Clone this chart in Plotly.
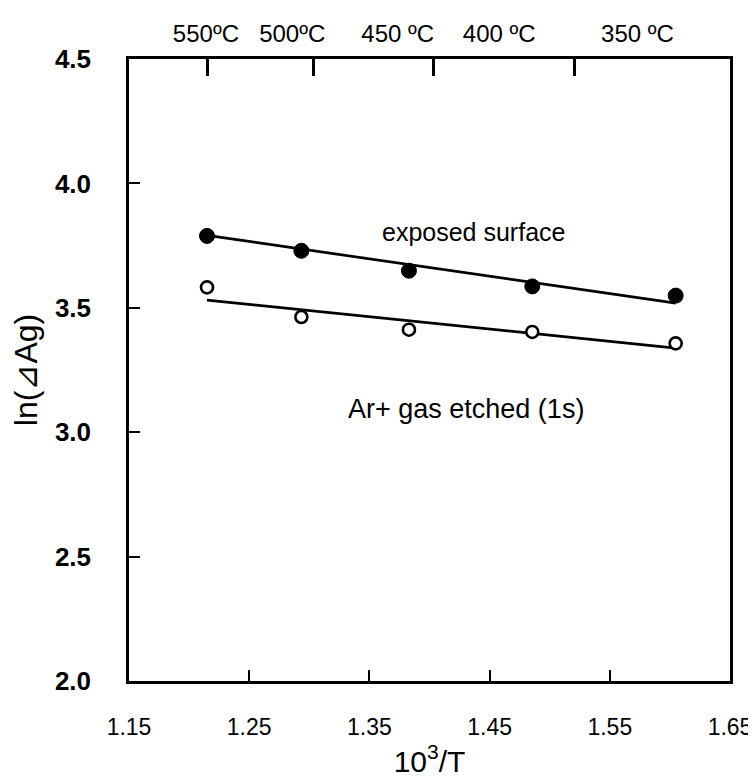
import plotly.graph_objects as go

# Data
inv_T = [1.2149, 1.2934, 1.3829, 1.4855, 1.6048]          # 10^3/T for 550..350 °C
exposed = [3.789, 3.729, 3.649, 3.586, 3.549]              # filled circles
etched = [3.582, 3.463, 3.412, 3.403, 3.357]               # open circles

fit_x = [1.2149, 1.6048]
fit_exposed = [3.791, 3.519]
fit_etched = [3.531, 3.338]

top_tick_vals = [1.215, 1.3034, 1.4037, 1.5207]
top_label_vals = [1.214, 1.2858, 1.3736, 1.458, 1.573]
top_label_text = ["550ºC", "500ºC", "450 ºC", "400 ºC", "350 ºC"]

x_ticks = [1.15, 1.25, 1.35, 1.45, 1.55, 1.65]
y_ticks = [2.0, 2.5, 3.0, 3.5, 4.0, 4.5]

FONT = "Liberation Sans, Arial, sans-serif"

fig = go.Figure()
fig.add_trace(go.Scatter(x=fit_x, y=fit_exposed, mode="lines",
                         line=dict(color="black", width=2.7), showlegend=False, hoverinfo="skip"))
fig.add_trace(go.Scatter(x=fit_x, y=fit_etched, mode="lines",
                         line=dict(color="black", width=2.7), showlegend=False, hoverinfo="skip"))
fig.add_trace(go.Scatter(x=inv_T, y=exposed, mode="markers",
                         marker=dict(symbol="circle", size=15, color="black",
                                     line=dict(color="black", width=1)), showlegend=False))
fig.add_trace(go.Scatter(x=inv_T, y=etched, mode="markers",
                         marker=dict(symbol="circle", size=12, color="white",
                                     line=dict(color="black", width=2.6)), showlegend=False))
# carriers for the top axes
fig.add_trace(go.Scatter(x=inv_T, y=exposed, xaxis="x2", mode="markers",
                         marker=dict(opacity=0), showlegend=False, hoverinfo="skip"))
fig.add_trace(go.Scatter(x=inv_T, y=exposed, xaxis="x3", mode="markers",
                         marker=dict(opacity=0), showlegend=False, hoverinfo="skip"))

fig.add_annotation(x=1.437, y=3.805, text="exposed surface", showarrow=False,
                   font=dict(family=FONT, size=25, color="black"))
fig.add_annotation(x=1.430, y=3.095, text="Ar+ gas etched (1s)", showarrow=False,
                   font=dict(family=FONT, size=27, color="black"))

fig.update_layout(
    width=756, height=777,
    margin=dict(l=118, r=25, t=49, b=99),
    paper_bgcolor="white", plot_bgcolor="white",
    font=dict(family=FONT, color="black"),
    xaxis=dict(range=[1.15, 1.65], tickvals=x_ticks, ticktext=[f"{v:.2f}" for v in x_ticks],
               ticks="inside", ticklen=11, tickwidth=2, tickcolor="black",
               showline=True, linewidth=2.5, linecolor="black", mirror=True,
               showgrid=False, zeroline=False, ticklabelstandoff=24,
               ticklabeloverflow="allow",
               tickfont=dict(family=FONT, size=23),
               title=dict(text="10<sup>3</sup>/T", font=dict(family=FONT, size=30), standoff=12)),
    yaxis=dict(range=[2.0, 4.5], tickvals=y_ticks, ticktext=[f"{v:.1f}" for v in y_ticks],
               ticks="inside", ticklen=11, tickwidth=2, tickcolor="black",
               showline=True, linewidth=2.5, linecolor="black", mirror=True,
               showgrid=False, zeroline=False, ticklabelstandoff=30,
               tickfont=dict(family=FONT, size=26, weight="bold"),
               title=dict(text="ln(⊿Ag)", font=dict(family=FONT, size=32), standoff=12)),
    xaxis2=dict(overlaying="x", side="top", range=[1.15, 1.65], tickvals=top_tick_vals,
                showticklabels=False, ticks="inside", ticklen=17, tickwidth=2.5, tickcolor="black",
                showline=True, linewidth=2.5, linecolor="black", showgrid=False, zeroline=False),
    xaxis3=dict(overlaying="x", side="top", range=[1.15, 1.65], tickvals=top_label_vals,
                ticktext=top_label_text, ticks="", showline=False, showgrid=False, zeroline=False,
                ticklabelstandoff=11, tickfont=dict(family=FONT, size=24)),
)

fig.write_html("out.html")
